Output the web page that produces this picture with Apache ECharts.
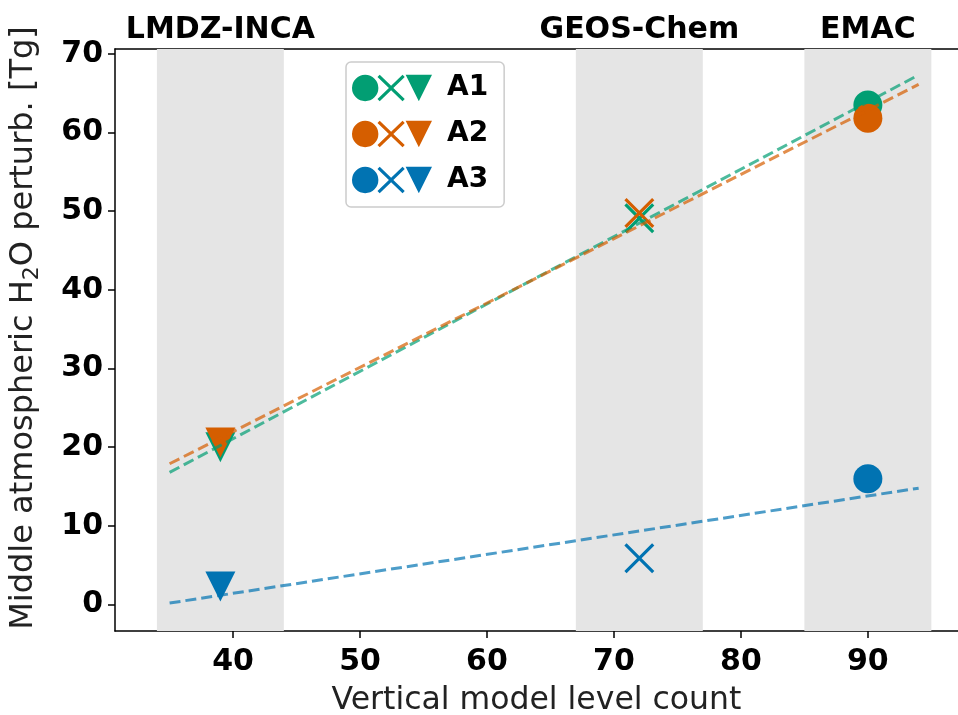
<!DOCTYPE html>
<html>
<head>
<meta charset="utf-8">
<script src="https://cdn.jsdelivr.net/npm/echarts@6/dist/echarts.min.js"></script>
<style>
  html, body { margin: 0; padding: 0; background: #fff; }
  #chart { width: 958px; height: 715px; }
</style>
</head>
<body>
<div id="chart"></div>
<script>
// Scenario groups and models
const groups = ['A1', 'A2', 'A3'];
const models = ['LMDZ-INCA', 'GEOS-Chem', 'EMAC'];
const levelCounts = [39, 72, 90];
const modelBands = [[34, 44], [67, 77], [85, 95]];

// Middle atmospheric H2O perturbation [Tg] per model (order of models)
const perturbA1 = [20.0, 49.1, 63.5];
const perturbA2 = [20.6, 49.75, 61.8];
const perturbA3 = [2.3, 5.9, 16.0];

// Fitted trend lines: end points
const fitX = [35, 94];
const fitA1 = [16.8, 67.3];
const fitA2 = [17.9, 66.1];
const fitA3 = [0.2, 14.8];

// Tick labels
const xTicks = [40, 50, 60, 70, 80, 90];
const yTicks = [0, 10, 20, 30, 40, 50, 60, 70];

const colors = ['#029e73', '#d55e00', '#0173b2'];
const FONT = 'DejaVu Sans';

// Marker per model: triangle-down, cross, circle
const CROSS = 'path://M0,7.5L7.5,0L50,42.5L92.5,0L100,7.5L57.5,50L100,92.5L92.5,100L50,57.5L7.5,100L0,92.5L42.5,50Z';
const markerFor = [
  { symbol: 'triangle', symbolSize: [30, 30], symbolRotate: 180 },
  { symbol: CROSS, symbolSize: [30, 30], symbolRotate: 0 },
  { symbol: 'circle', symbolSize: [29, 29], symbolRotate: 0 }
];

// Legend icon: circle + cross + triangle-down side by side
const LEGEND_ICON = 'path://M0,15A15,15 0 1,0 30,15A15,15 0 1,0 0,15Z' +
  'M29,2.5L31.5,0L44.5,12.5L57.5,0L60,2.5L47,15L60,27.5L57.5,30L44.5,17.5L31.5,30L29,27.5L42,15Z' +
  'M61,0L91,0L76,30Z';

const perturb = [perturbA1, perturbA2, perturbA3];
const fits = [fitA1, fitA2, fitA3];

const series = [];

// Shaded bands marking each model's level count region
series.push({
  type: 'line',
  name: 'bands',
  data: [],
  z: 0,
  silent: true,
  markArea: {
    silent: true,
    itemStyle: { color: '#e5e5e5' },
    data: modelBands.map(b => [{ xAxis: b[0] }, { xAxis: b[1] }])
  }
});

groups.forEach((g, i) => {
  series.push({
    type: 'scatter',
    name: g,
    z: 3,
    itemStyle: { color: colors[i], opacity: 1 },
    data: levelCounts.map((x, k) => Object.assign({ value: [x, perturb[i][k]] }, markerFor[k]))
  });
});

groups.forEach((g, i) => {
  series.push({
    type: 'line',
    name: g + ' fit',
    z: 4,
    symbol: 'none',
    lineStyle: { color: colors[i], width: 3, type: [11, 5], opacity: 0.7 },
    data: fitX.map((x, k) => [x, fits[i][k]])
  });
});

const axisLineStyle = { color: '#000', width: 1.5 };
const X_MIN = 30.7;
const X_MAX = 97.1;

const option = {
  animation: false,
  backgroundColor: '#ffffff',
  textStyle: { fontFamily: FONT },
  grid: { left: 115, top: 49, right: 0, bottom: 84, outerBoundsMode: 'none', containLabel: false },
  legend: {
    orient: 'vertical',
    left: 346,
    top: 62,
    padding: [12, 16, 13, 6],
    itemWidth: 80,
    itemHeight: 27,
    itemGap: 18,
    backgroundColor: 'rgba(255,255,255,0.8)',
    borderColor: '#cccccc',
    borderWidth: 1.5,
    borderRadius: 5,
    textStyle: { fontSize: 28, fontWeight: 'bold', color: '#000', fontFamily: FONT, padding: [0, 0, 0, 10], lineHeight: 27 },
    data: groups.map(g => ({ name: g, icon: LEGEND_ICON }))
  },
  xAxis: [
    {
      type: 'value',
      position: 'bottom',
      min: X_MIN,
      max: X_MAX,
      splitLine: { show: false },
      axisLine: { show: true, onZero: false, lineStyle: axisLineStyle },
      axisTick: { show: true, length: 7, customValues: xTicks, lineStyle: axisLineStyle },
      axisLabel: { customValues: xTicks, fontSize: 30, fontWeight: 'bold', color: '#000', margin: 16, fontFamily: FONT },
      name: 'Vertical model level count',
      nameLocation: 'middle',
      nameGap: 54,
      nameTextStyle: { fontSize: 31.5, color: '#222', fontFamily: FONT }
    },
    {
      type: 'value',
      position: 'top',
      min: X_MIN,
      max: X_MAX,
      splitLine: { show: false },
      axisLine: { show: true, onZero: false, lineStyle: axisLineStyle },
      axisTick: { show: false },
      axisLabel: {
        customValues: levelCounts,
        formatter: v => models[levelCounts.indexOf(v)] || '',
        fontSize: 30, fontWeight: 'bold', color: '#000', margin: 4, fontFamily: FONT
      }
    }
  ],
  yAxis: {
    type: 'value',
    min: -3.35,
    max: 70.6,
    splitLine: { show: false },
    axisLine: { show: true, onZero: false, lineStyle: axisLineStyle },
    axisTick: { show: true, length: 7, customValues: yTicks, lineStyle: axisLineStyle },
    axisLabel: { customValues: yTicks, fontSize: 30, fontWeight: 'bold', color: '#000', margin: 12, fontFamily: FONT, padding: [6, 0, 0, 0] },
    name: '{a|Middle atmospheric H}{s|2}{a|O perturb. [Tg]}',
    nameLocation: 'middle',
    nameGap: 72,
    nameRotate: 90,
    nameTextStyle: {
      fontFamily: FONT,
      color: '#222',
      padding: [0, 0, 0, 24],
      rich: {
        a: { fontSize: 32, color: '#222', fontFamily: FONT, lineHeight: 38 },
        s: { fontSize: 22, color: '#222', fontFamily: FONT, lineHeight: 22, verticalAlign: 'bottom' }
      }
    }
  },
  series: series
};

const chart = echarts.init(document.getElementById('chart'), null, { renderer: 'canvas' });
chart.setOption(option);
</script>
</body>
</html>
